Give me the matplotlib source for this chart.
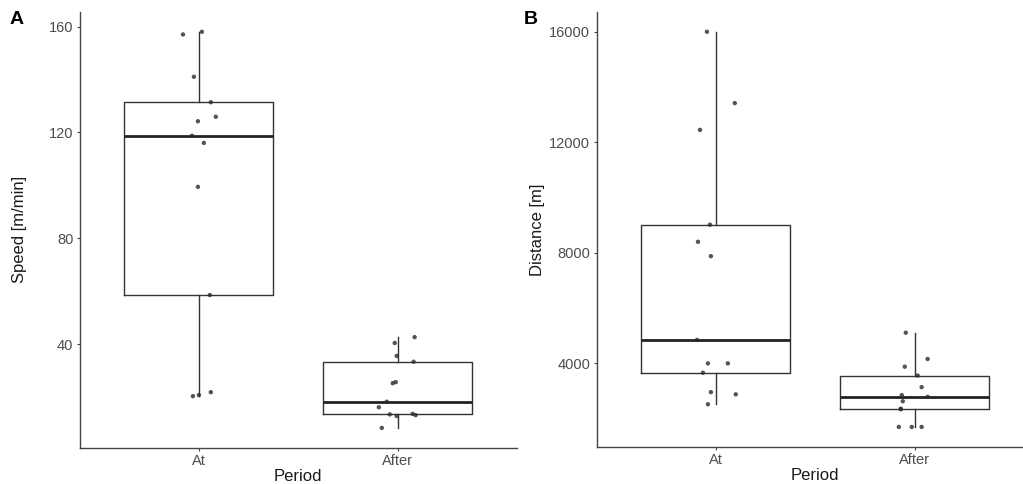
import matplotlib.pyplot as plt

plt.rcParams['font.family'] = ['Liberation Sans', 'DejaVu Sans']

periods = ['At', 'After']

# Panel A: speed [m/min] per animal, with the horizontal jitter of each point
speed_at = [157, 158, 141, 131.4, 124.2, 125.9, 118.7, 116, 99.4, 58.5, 20.3, 20.7, 21.8]
speed_at_jitter = [-0.08, 0.015, -0.025, 0.06, -0.005, 0.085, -0.035, 0.025, -0.005, 0.055, -0.03, 0.0, 0.06]
speed_after = [40.4, 42.6, 35.5, 33.3, 25.2, 25.6, 18.2, 16.1, 13.4, 13.6, 13.1, 12.8, 8.3]
speed_after_jitter = [-0.015, 0.085, -0.005, 0.08, -0.025, -0.01, -0.055, -0.095, -0.04, 0.075, 0.09, -0.005, -0.08]
speed_ticks = [40, 80, 120, 160]

# Panel B: distance [m]
dist_at = [16000, 13418, 12450, 9018, 8400, 7880, 4848, 4000, 4000, 3660, 2960, 2880, 2520]
dist_at_jitter = [-0.045, 0.095, -0.08, -0.03, -0.09, -0.025, -0.095, -0.04, 0.06, -0.065, -0.025, 0.1, -0.04]
dist_after = [5110, 4160, 3880, 3560, 3140, 2850, 2790, 2630, 2360, 2340, 1700, 1700, 1700]
dist_after_jitter = [-0.045, 0.065, -0.05, 0.015, 0.035, -0.065, 0.065, -0.06, -0.07, -0.07, -0.08, -0.015, 0.035]
dist_ticks = [4000, 8000, 12000, 16000]

W, H = 1023, 484
fig = plt.figure(figsize=(W / 100, H / 100), dpi=100)
fig.patch.set_facecolor('white')

line_col = '#333333'


def draw_panel(ax, groups, jitters, ticks, ylabel, ypad):
    ax.boxplot(groups, positions=[1, 2], widths=0.75, whis=1.5,
               showfliers=False, showcaps=False,
               boxprops=dict(color=line_col, linewidth=1.0),
               whiskerprops=dict(color=line_col, linewidth=1.0),
               medianprops=dict(color='#222222', linewidth=2.0))
    for i, (vals, jit) in enumerate(zip(groups, jitters)):
        xs = [i + 1 + j for j in jit]
        ax.scatter(xs, vals, s=10, color='#2a2a2a', alpha=0.8,
                   edgecolors='none', zorder=3)
    lo = min(min(g) for g in groups)
    hi = max(max(g) for g in groups)
    pad = 0.05 * (hi - lo)
    ax.set_ylim(lo - pad, hi + pad)
    ax.set_xlim(0.4, 2.6)
    ax.set_yticks(ticks)
    ax.set_yticklabels([str(t) for t in ticks])
    ax.set_xticks([1, 2])
    ax.set_xticklabels(periods)
    for side in ['top', 'right']:
        ax.spines[side].set_visible(False)
    for side in ['left', 'bottom']:
        ax.spines[side].set_color('#444444')
        ax.spines[side].set_linewidth(1.0)
    ax.tick_params(length=2.5, width=0.8, color='#444444',
                   labelsize=10.5, labelcolor='#4d4d4d', pad=2)
    ax.set_ylabel(ylabel, fontsize=12, color='#1a1a1a', labelpad=ypad)
    ax.set_xlabel('Period', fontsize=12, color='#1a1a1a', labelpad=1)


ax_a = fig.add_axes([79.6 / W, (H - 447.7) / H, 437.4 / W, 435.7 / H])
draw_panel(ax_a, [speed_at, speed_after],
           [speed_at_jitter, speed_after_jitter], speed_ticks, 'Speed [m/min]', 16)

ax_b = fig.add_axes([596.6 / W, (H - 446.7) / H, 437.4 / W, 434.7 / H])
draw_panel(ax_b, [dist_at, dist_after],
           [dist_at_jitter, dist_after_jitter], dist_ticks, 'Distance [m]', 3)

fig.text(10 / W, 1 - 11 / H, 'A', fontsize=14, fontweight='bold', va='top', ha='left')
fig.text(524 / W, 1 - 11 / H, 'B', fontsize=14, fontweight='bold', va='top', ha='left')

fig.savefig('out.png', dpi=100)
